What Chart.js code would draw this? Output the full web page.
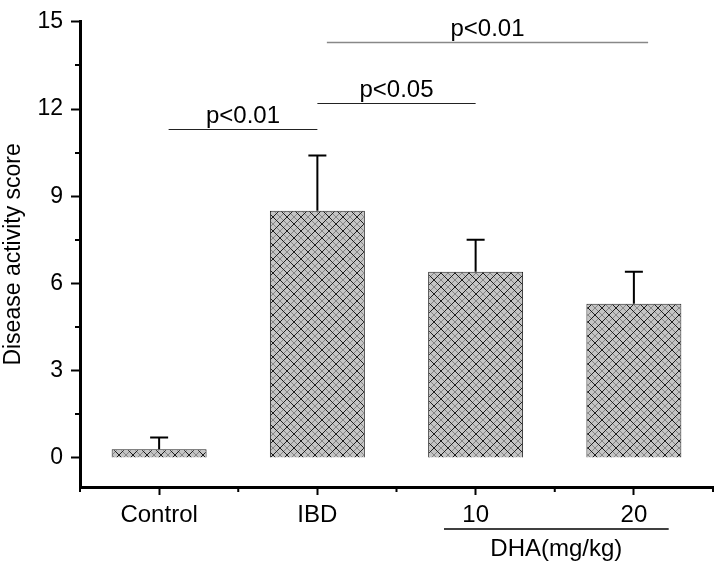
<!DOCTYPE html>
<html>
<head>
<meta charset="utf-8">
<script src="https://cdn.jsdelivr.net/npm/chart.js@4/dist/chart.umd.min.js"></script>
<style>
  html, body { margin: 0; padding: 0; background: #fff; }
  #wrap { width: 720px; height: 565px; }
</style>
</head>
<body>
<div id="wrap"><canvas id="chart" width="720" height="565"></canvas></div>
<script>
// data
const categories = ['Control', 'IBD', '10', '20'];
const scores = [0.3, 8.5, 6.4, 5.3];
const scoreErr = [0.4, 1.9, 1.1, 1.1];
const yTickValues = [0, 3, 6, 9, 12, 15];

// significance brackets: from / to are category positions, level is the y value
const sigLabels = ['p<0.01', 'p<0.05', 'p<0.01'];
const sigFrom = [0.06, 1, 1.06];
const sigTo = [1, 2, 3.09];
const sigLevel = [11.3, 12.2, 14.3];

const groupLabel = 'DHA(mg/kg)';
const groupCats = [2, 3];

const FONT = "'Liberation Sans', Arial, sans-serif";

function makeHatch() {
    const s = 14;
    const c = document.createElement('canvas');
    c.width = s; c.height = s;
    const g = c.getContext('2d');
    g.fillStyle = '#c4c4c4';
    g.fillRect(0, 0, s, s);
    // lighter in-between mesh
    g.strokeStyle = '#858585';
    g.lineWidth = 1;
    for (let k = -s / 2; k <= s; k += s) {
        g.beginPath(); g.moveTo(k, 0); g.lineTo(k + s, s); g.stroke();
        g.beginPath(); g.moveTo(k + s, 0); g.lineTo(k, s); g.stroke();
    }
    // dark cross hatch
    g.strokeStyle = '#1e1e1e';
    for (let k = -s; k <= s; k += s) {
        g.beginPath(); g.moveTo(k, 0); g.lineTo(k + s, s); g.stroke();
        g.beginPath(); g.moveTo(k + s, 0); g.lineTo(k, s); g.stroke();
    }
    return document.getElementById('chart').getContext('2d').createPattern(c, 'repeat');
}

const extrasPlugin = {
    id: 'extras',
    afterDatasetsDraw(chart) {
        const ctx = chart.ctx;
        const x = chart.scales.x;
        const y = chart.scales.y;
        const bars = chart.getDatasetMeta(0).data;

        // error bars (upper only)
        ctx.save();
        ctx.strokeStyle = '#000';
        ctx.lineWidth = 2;
        bars.forEach((bar, i) => {
            const top = y.getPixelForValue(scores[i] + scoreErr[i]);
            ctx.beginPath();
            ctx.moveTo(bar.x, bar.y);
            ctx.lineTo(bar.x, top);
            ctx.moveTo(bar.x - 9, top);
            ctx.lineTo(bar.x + 9, top);
            ctx.stroke();
        });
        ctx.restore();

        // significance lines
        const step = x.getPixelForValue(1) - x.getPixelForValue(0);
        const catX = v => x.getPixelForValue(0) + v * step;
        ctx.save();
        ctx.font = '24px ' + FONT;
        ctx.textAlign = 'center';
        ctx.textBaseline = 'bottom';
        sigLabels.forEach((lab, i) => {
            const x0 = catX(sigFrom[i]);
            const x1 = catX(sigTo[i]);
            const ly = Math.round(y.getPixelForValue(sigLevel[i])) + 0.5;
            ctx.strokeStyle = i === 2 ? '#888' : '#222';
            ctx.lineWidth = i === 2 ? 1.5 : 1;
            ctx.beginPath();
            ctx.moveTo(x0, ly);
            ctx.lineTo(x1, ly);
            ctx.stroke();
            ctx.fillStyle = '#000';
            ctx.fillText(lab, (x0 + x1) / 2, ly - 1);
        });
        ctx.restore();
    },
    afterDraw(chart) {
        const ctx = chart.ctx;
        const x = chart.scales.x;
        const y = chart.scales.y;
        const area = chart.chartArea;
        ctx.save();
        ctx.strokeStyle = '#000';
        ctx.lineWidth = 2;
        // minor y ticks
        for (let i = 0; i < yTickValues.length - 1; i++) {
            const v = (yTickValues[i] + yTickValues[i + 1]) / 2;
            const py = Math.round(y.getPixelForValue(v));
            ctx.beginPath();
            ctx.moveTo(area.left - 5, py);
            ctx.lineTo(area.left, py);
            ctx.stroke();
        }
        // minor x ticks between categories
        const step = x.getPixelForValue(1) - x.getPixelForValue(0);
        for (let i = 0; i <= categories.length; i++) {
            const px = x.getPixelForValue(0) + (i - 0.5) * step;
            ctx.beginPath();
            ctx.moveTo(px, area.bottom);
            ctx.lineTo(px, area.bottom + 5);
            ctx.stroke();
        }
        // group label under the DHA doses
        const gx0 = x.getPixelForValue(groupCats[0]) - 0.2 * step;
        const gx1 = x.getPixelForValue(groupCats[1]) + 0.22 * step;
        const gy = area.bottom + 42;
        ctx.lineWidth = 1.5;
        ctx.beginPath();
        ctx.moveTo(gx0, gy);
        ctx.lineTo(gx1, gy);
        ctx.stroke();
        ctx.fillStyle = '#000';
        ctx.font = '24px ' + FONT;
        ctx.textAlign = 'center';
        ctx.textBaseline = 'middle';
        ctx.fillText(groupLabel, (gx0 + gx1) / 2, gy + 20);
        ctx.restore();
    }
};

new Chart(document.getElementById('chart'), {
    type: 'bar',
    data: {
        labels: categories,
        datasets: [{
            data: scores,
            backgroundColor: makeHatch(),
            borderColor: '#222',
            borderWidth: 1,
            barPercentage: 0.6,
            categoryPercentage: 1
        }]
    },
    options: {
        responsive: false,
        animation: false,
        layout: { padding: { top: 15, right: 7, left: 0, bottom: 0 } },
        plugins: {
            legend: { display: false },
            tooltip: { enabled: false }
        },
        scales: {
            x: {
                offset: true,
                grid: {
                    offset: false,
                    drawOnChartArea: false,
                    tickLength: 8,
                    tickWidth: 2,
                    tickColor: '#000'
                },
                border: { color: '#000', width: 3 },
                ticks: {
                    color: '#000',
                    padding: 6,
                    font: { family: FONT, size: 24 }
                },
                afterFit(scale) { scale.height = 78; }
            },
            y: {
                min: -1,
                max: 15,
                afterBuildTicks(scale) {
                    scale.ticks = yTickValues.map(v => ({ value: v }));
                },
                grid: {
                    drawOnChartArea: false,
                    tickLength: 9,
                    tickWidth: 2,
                    tickColor: '#000'
                },
                border: { color: '#000', width: 3 },
                ticks: {
                    color: '#000',
                    padding: 8,
                    font: { family: FONT, size: 23 }
                },
                title: {
                    display: true,
                    text: 'Disease activity score',
                    color: '#000',
                    font: { family: FONT, size: 23 },
                    padding: { top: 0, bottom: 6 }
                },
                afterFit(scale) { scale.width = 80; }
            }
        }
    },
    plugins: [extrasPlugin]
});
</script>
</body>
</html>
